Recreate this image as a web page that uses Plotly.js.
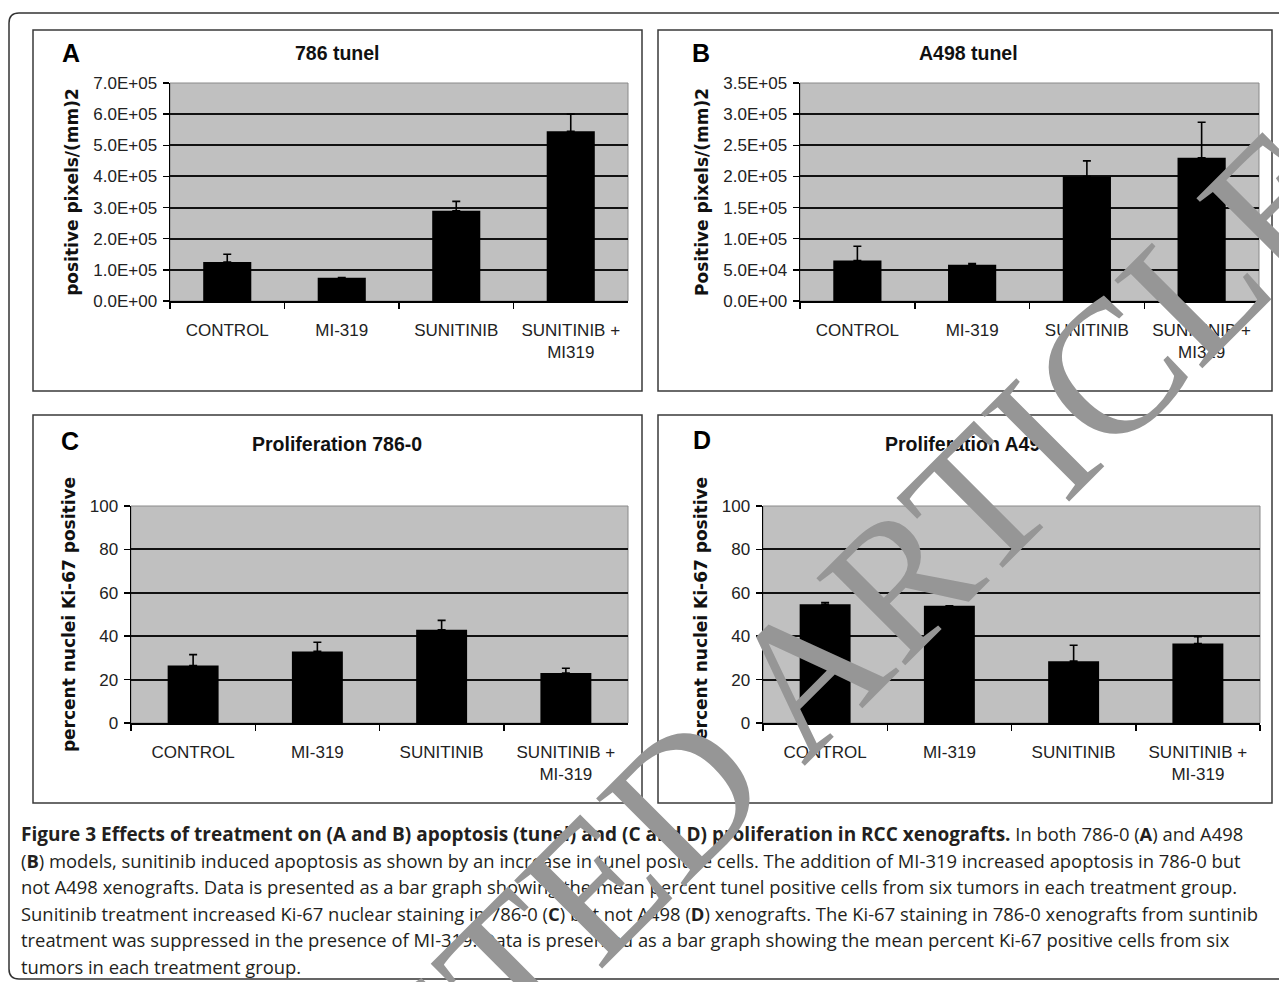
<!DOCTYPE html>
<html>
<head>
<meta charset="utf-8">
<script src="https://cdn.plot.ly/plotly-3.0.1.min.js"></script>
<style>html,body{margin:0;padding:0;background:#fff;}#chart{width:1279px;height:982px;}</style>
</head>
<body>
<div id="chart"></div>
<script>
// ---------- data ----------
const catsTunel = ["CONTROL", "MI-319", "SUNITINIB", "SUNITINIB +<br>MI319"];
const catsProlif = ["CONTROL", "MI-319", "SUNITINIB", "SUNITINIB +<br>MI-319"];

const tunel786 = [125000, 75000, 290000, 545000];
const tunel786Err = [25000, 0, 30000, 55000];

const tunelA498 = [65000, 58000, 200000, 230000];
const tunelA498Err = [23000, 2000, 25000, 57000];

const prolif786 = [26.5, 33, 43, 23];
const prolif786Err = [5, 4.2, 4.3, 2.2];

const prolifA498 = [54.7, 54, 28.5, 36.6];
const prolifA498Err = [0.8, 0, 7.3, 3.2];

const tickValsA = [0, 100000, 200000, 300000, 400000, 500000, 600000, 700000];
const tickTextA = ["0.0E+00", "1.0E+05", "2.0E+05", "3.0E+05", "4.0E+05", "5.0E+05", "6.0E+05", "7.0E+05"];
const tickValsB = [0, 50000, 100000, 150000, 200000, 250000, 300000, 350000];
const tickTextB = ["0.0E+00", "5.0E+04", "1.0E+05", "1.5E+05", "2.0E+05", "2.5E+05", "3.0E+05", "3.5E+05"];
const tickValsPct = [0, 20, 40, 60, 80, 100];

const panelTitles = ["786 tunel", "A498 tunel", "Proliferation 786-0", "Proliferation A498"];
const panelLetters = ["A", "B", "C", "D"];
const yTitles = ["positive pixels/(mm)2", "Positive pixels/(mm)2", "percent nuclei Ki-67 positive", "percent nuclei Ki-67 positive"];

const captionTitle = "Figure 3 Effects of treatment on (A and B) apoptosis (tunel) and (C and D) proliferation in RCC xenografts.";
const captionLines = [
  " In both 786-0 (<b>A</b>) and A498",
  "(<b>B</b>) models, sunitinib induced apoptosis as shown by an increase in tunel positive cells. The addition of MI-319 increased apoptosis in 786-0 but",
  "not A498 xenografts. Data is presented as a bar graph showing the mean percent tunel positive cells from six tumors in each treatment group.",
  "Sunitinib treatment increased Ki-67 nuclear staining in 786-0 (<b>C</b>) but not A498 (<b>D</b>) xenografts. The Ki-67 staining in 786-0 xenografts from suntinib",
  "treatment was suppressed in the presence of MI-319. Data is presented as a bar graph showing the mean percent Ki-67 positive cells from six",
  "tumors in each treatment group."
];
const watermark = "RETRACTED ARTICLE";

// ---------- geometry helpers ----------
const W = 1279, H = 982;
const px = v => v / W;
const py = v => 1 - v / H;

function barTrace(cats, vals, errs, xa, ya, w) {
  return {
    type: "bar", x: cats, y: vals, xaxis: xa, yaxis: ya, width: w,
    marker: { color: "#000000", line: { width: 0 } },
    error_y: { type: "data", symmetric: false, array: errs, arrayminus: errs.map(() => 0),
               color: "#000000", thickness: 1.6, width: 4 },
    hoverinfo: "x+y", showlegend: false
  };
}

const data = [
  barTrace(catsTunel, tunel786, tunel786Err, "x", "y", 0.42),
  barTrace(catsTunel, tunelA498, tunelA498Err, "x2", "y2", 0.42),
  barTrace(catsProlif, prolif786, prolif786Err, "x3", "y3", 0.41),
  barTrace(catsProlif, prolifA498, prolifA498Err, "x4", "y4", 0.41)
];

const tickFont = { family: "Liberation Sans, Arial, sans-serif", size: 17, color: "#222" };
const yTitleFont = { family: "DejaVu Sans, Verdana, sans-serif", size: 17, color: "#111" };

function xAxis(domain, anchor) {
  return {
    domain: domain, anchor: anchor, type: "category",
    showline: true, linecolor: "#000", linewidth: 1.5,
    ticks: "outside", ticklen: 6, tickwidth: 1.5, tickcolor: "#000",
    tickson: "boundaries", showgrid: false, zeroline: false,
    tickfont: tickFont, ticklabelstandoff: 13, fixedrange: true
  };
}
function yAxis(domain, anchor, range, vals, text, title) {
  return {
    domain: domain, anchor: anchor, range: range,
    tickmode: "array", tickvals: vals, ticktext: text,
    showline: true, linecolor: "#000", linewidth: 1.5,
    ticks: "outside", ticklen: 6, tickwidth: 1.5, tickcolor: "#000",
    showgrid: true, gridcolor: "#111", gridwidth: 2, zeroline: false,
    tickfont: tickFont, ticklabelstandoff: 2,
    title: { text: "<b>" + title + "</b>", font: yTitleFont, standoff: 10 },
    fixedrange: true
  };
}

// plot areas (px)
const plotA = { x0: 170, x1: 628, y0: 83, y1: 301 };
const plotB = { x0: 800, x1: 1259, y0: 83, y1: 301 };
const plotC = { x0: 131, x1: 628, y0: 506, y1: 723 };
const plotD = { x0: 763, x1: 1260, y0: 506, y1: 723 };
const xd = p => [px(p.x0), px(p.x1)];
const yd = p => [py(p.y1), py(p.y0)];

// panel boxes (px)
const boxes = [
  { x0: 33, y0: 30, x1: 642, y1: 391 },
  { x0: 658, y0: 30, x1: 1272, y1: 391 },
  { x0: 33, y0: 415, x1: 642, y1: 803 },
  { x0: 658, y0: 415, x1: 1272, y1: 803 }
];

const shapes = [];
// outer rounded frame
const fr = { l: 9, t: 13, r: 1300, b: 979, rad: 10 };
shapes.push({
  type: "path", xref: "paper", yref: "paper",
  path: `M ${px(fr.r)},${py(fr.t)} L ${px(fr.l + fr.rad)},${py(fr.t)} Q ${px(fr.l)},${py(fr.t)} ${px(fr.l)},${py(fr.t + fr.rad)} ` +
        `L ${px(fr.l)},${py(fr.b - fr.rad)} Q ${px(fr.l)},${py(fr.b)} ${px(fr.l + fr.rad)},${py(fr.b)} L ${px(fr.r)},${py(fr.b)}`,
  line: { color: "#333", width: 1.5 }
});
boxes.forEach(b => shapes.push({
  type: "rect", xref: "paper", yref: "paper",
  x0: px(b.x0), x1: px(b.x1), y0: py(b.y1), y1: py(b.y0),
  line: { color: "#3a3a3a", width: 1.5 }, fillcolor: "rgba(0,0,0,0)"
}));
["", "2", "3", "4"].forEach(s => shapes.push({
  type: "rect", xref: "x" + s + " domain", yref: "y" + s + " domain",
  x0: 0, x1: 1, y0: 0, y1: 1, layer: "below",
  line: { color: "#8a8a8a", width: 1 }, fillcolor: "rgba(0,0,0,0)"
}));

const annotations = [];
const titleFont = { family: "Liberation Sans, Arial, sans-serif", size: 19.5, color: "#111" };
const letterFont = { family: "Liberation Sans, Arial, sans-serif", size: 25, color: "#000" };
const titlePos = [[337, 53], [968, 53], [337, 444], [968, 444]];
const letterPos = [[71, 53], [701, 53], [70, 441], [702, 440]];
for (let i = 0; i < 4; i++) {
  annotations.push({ xref: "paper", yref: "paper", x: px(titlePos[i][0]), y: py(titlePos[i][1]),
    text: "<b>" + panelTitles[i] + "</b>", showarrow: false, xanchor: "center", yanchor: "middle", font: titleFont });
  annotations.push({ xref: "paper", yref: "paper", x: px(letterPos[i][0]), y: py(letterPos[i][1]),
    text: "<b>" + panelLetters[i] + "</b>", showarrow: false, xanchor: "center", yanchor: "middle", font: letterFont });
}
const capFont = { family: "Open Sans, Noto Sans, sans-serif", size: 18.4, color: "#231f20" };
const capY0 = 834, capDy = 26.4;
captionLines.forEach((t, i) => {
  const txt = i === 0 ? '<span style="font-size:19px"><b>' + captionTitle + '</b></span>' + t : t;
  annotations.push({
    xref: "paper", yref: "paper", x: px(19), y: py(capY0 + i * capDy),
    text: txt, showarrow: false, xanchor: "left", yanchor: "middle", align: "left", font: capFont
  });
});
annotations.push({
  xref: "paper", yref: "paper", x: px(629), y: py(851), text: watermark, showarrow: false,
  xanchor: "center", yanchor: "middle", textangle: -45,
  font: { family: "Liberation Serif, Times New Roman, serif", size: 190, color: "#969696" }
});

const layout = {
  width: W, height: H,
  margin: { l: 0, r: 0, t: 0, b: 0 },
  paper_bgcolor: "#ffffff", plot_bgcolor: "#c0c0c0",
  font: { family: "Liberation Sans, Arial, sans-serif", color: "#222" },
  showlegend: false,
  xaxis: xAxis(xd(plotA), "y"),
  yaxis: yAxis(yd(plotA), "x", [0, 700000], tickValsA, tickTextA, yTitles[0]),
  xaxis2: xAxis(xd(plotB), "y2"),
  yaxis2: yAxis(yd(plotB), "x2", [0, 350000], tickValsB, tickTextB, yTitles[1]),
  xaxis3: xAxis(xd(plotC), "y3"),
  yaxis3: yAxis(yd(plotC), "x3", [0, 100], tickValsPct, tickValsPct.map(String), yTitles[2]),
  xaxis4: xAxis(xd(plotD), "y4"),
  yaxis4: yAxis(yd(plotD), "x4", [0, 100], tickValsPct, tickValsPct.map(String), yTitles[3]),
  shapes: shapes,
  annotations: annotations
};

Plotly.newPlot("chart", data, layout, { displayModeBar: false, staticPlot: true });
</script>
</body>
</html>
